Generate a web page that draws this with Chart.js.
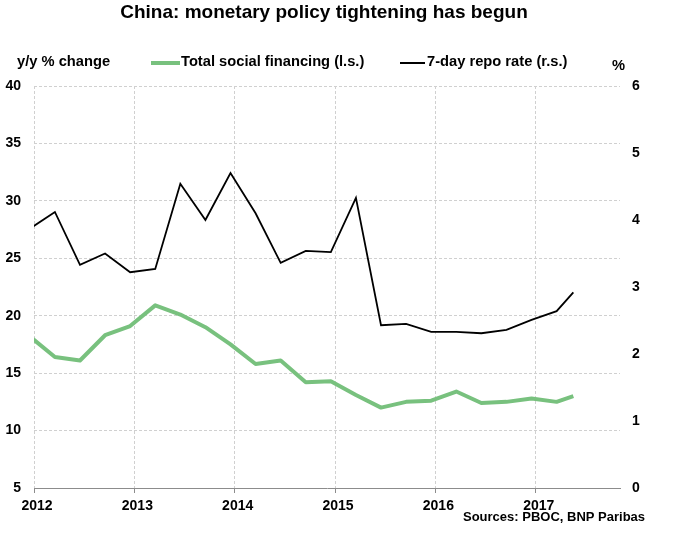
<!DOCTYPE html>
<html>
<head>
<meta charset="utf-8">
<script src="https://cdn.jsdelivr.net/npm/chart.js@4"></script>
<style>
  body { margin: 0; background: #fff; }
  #wrap { width: 674px; height: 539px; position: relative; }
</style>
</head>
<body>
<div id="wrap"><canvas id="china"></canvas></div>
<script>
// quarterly readings (month of observation), last one is May 2017
var months = ['2011-12','2012-03','2012-06','2012-09','2012-12','2013-03','2013-06','2013-09','2013-12',
  '2014-03','2014-06','2014-09','2014-12','2015-03','2015-06','2015-09','2015-12',
  '2016-03','2016-06','2016-09','2016-12','2017-03','2017-05'];
var socialFinancing = [18.2, 16.4, 16.1, 18.3, 19.1, 20.9, 20.1, 19.0, 17.5,
  15.8, 16.1, 14.2, 14.3, 13.1, 12.0, 12.5, 12.6,
  13.4, 12.4, 12.5, 12.8, 12.5, 13.0];
var repoRate = [3.87, 4.12, 3.33, 3.50, 3.22, 3.27, 4.54, 4.00, 4.70,
  4.10, 3.36, 3.54, 3.52, 4.33, 2.43, 2.45, 2.33,
  2.33, 2.31, 2.36, 2.51, 2.64, 2.92];
var yearTicks = [2012, 2013, 2014, 2015, 2016, 2017];

var title = 'China: monetary policy tightening has begun';
var leftUnit = 'y/y % change';
var rightUnit = '%';
var source = 'Sources: PBOC, BNP Paribas';

// 'YYYY-MM' -> decimal year, middle of the month
function toYear(m) {
  var p = m.split('-');
  return +p[0] + (+p[1] - 0.5) / 12;
}
function pairs(vals) {
  return vals.map(function(v, i) { return {x: toYear(months[i]), y: v}; });
}

var GREEN = 'rgb(120,193,126)';
var FONT = '"Liberation Sans", Arial, sans-serif';

var headerText = {
  id: 'headerText',
  afterDraw: function(chart) {
    var ctx = chart.ctx;
    var ds = chart.data.datasets;
    ctx.save();
    ctx.fillStyle = '#000';
    ctx.textBaseline = 'middle';
    ctx.textAlign = 'center';
    ctx.font = 'bold 19px ' + FONT;
    ctx.fillText(title, 324, 13);

    ctx.textAlign = 'left';
    ctx.font = 'bold 14.7px ' + FONT;
    ctx.fillText(leftUnit, 17, 62);
    ctx.fillText(rightUnit, 612, 66);

    // legend
    ctx.lineCap = 'butt';
    ctx.strokeStyle = ds[0].borderColor; ctx.lineWidth = 4;
    ctx.beginPath(); ctx.moveTo(151, 63); ctx.lineTo(180, 63); ctx.stroke();
    ctx.fillText(ds[0].label, 181, 62);
    ctx.strokeStyle = ds[1].borderColor; ctx.lineWidth = 2;
    ctx.beginPath(); ctx.moveTo(400, 63); ctx.lineTo(425, 63); ctx.stroke();
    ctx.fillText(ds[1].label, 427, 62);

    ctx.font = 'bold 13px ' + FONT;
    ctx.fillText(source, 463, 517);
    ctx.restore();
  }
};

Chart.defaults.font.family = FONT;
Chart.defaults.color = '#000';

new Chart('china', {
  type: 'line',
  plugins: [headerText],
  data: {
    datasets: [
      {
        label: 'Total social financing (l.s.)',
        data: pairs(socialFinancing),
        yAxisID: 'yL',
        borderColor: GREEN,
        backgroundColor: GREEN,
        borderWidth: 4,
        pointRadius: 0,
        tension: 0,
        borderJoinStyle: 'round'
      },
      {
        label: '7-day repo rate (r.s.)',
        data: pairs(repoRate),
        yAxisID: 'yR',
        borderColor: '#000',
        backgroundColor: '#000',
        borderWidth: 1.8,
        pointRadius: 0,
        tension: 0
      }
    ]
  },
  options: {
    responsive: true,
    maintainAspectRatio: false,
    animation: false,
    layout: { padding: { top: 86, left: 0, right: 0, bottom: 0 } },
    plugins: {
      legend: { display: false },
      title: { display: false },
      tooltip: { enabled: false }
    },
    scales: {
      x: {
        type: 'linear',
        min: 2012,
        max: 2017.84,
        afterBuildTicks: function(scale) {
          scale.ticks = yearTicks.map(function(v) { return {value: v}; });
        },
        afterFit: function(scale) { scale.height = 51; },
        grid: {
          color: '#d0d0d0',
          tickColor: '#8c8c8c',
          tickLength: 5,
          tickBorderDash: []
        },
        border: { display: true, color: '#8c8c8c', dash: [3, 2] },
        ticks: {
          font: { size: 14, weight: 'bold' },
          padding: 5,
          labelOffset: 3,
          maxRotation: 0,
          callback: function(v) { return String(v); }
        }
      },
      yL: {
        position: 'left',
        min: 5,
        max: 40,
        afterFit: function(scale) { scale.width = 34; },
        grid: { color: '#d0d0d0', drawTicks: false },
        border: { display: false, dash: [3, 2] },
        ticks: { stepSize: 5, padding: 13, font: { size: 14, weight: 'bold' } }
      },
      yR: {
        position: 'right',
        min: 0,
        max: 6,
        afterFit: function(scale) { scale.width = 54; },
        grid: { drawOnChartArea: false, drawTicks: false },
        border: { display: false },
        ticks: { stepSize: 1, padding: 12, font: { size: 14, weight: 'bold' } }
      }
    }
  }
});
</script>
</body>
</html>
